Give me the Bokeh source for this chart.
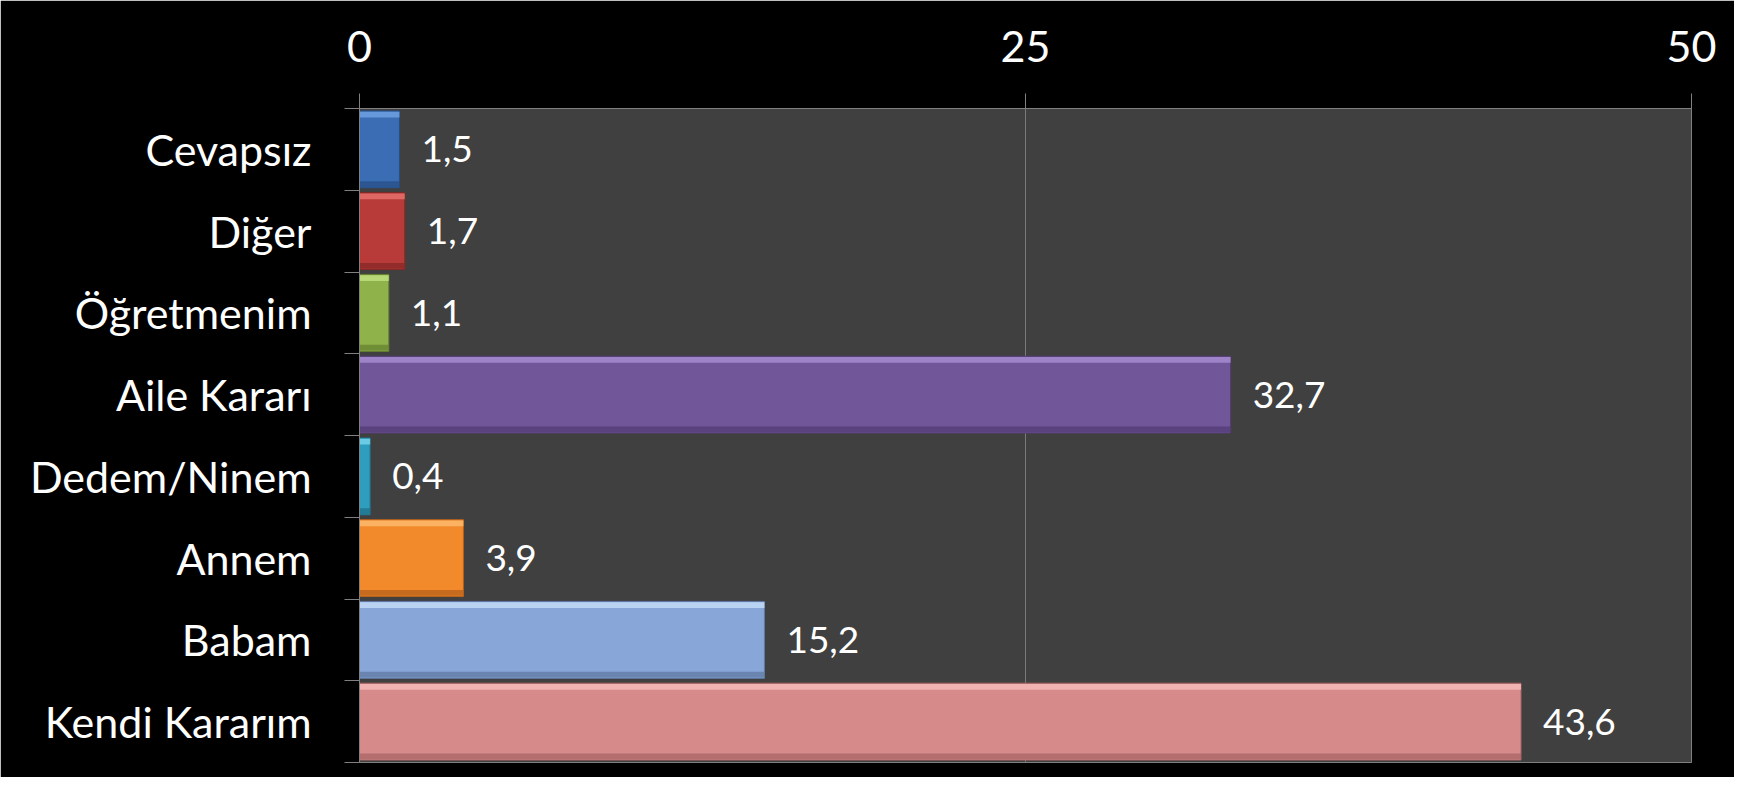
from bokeh.plotting import figure
from bokeh.models import ColumnDataSource, FixedTicker, Range1d
from bokeh.transform import dodge
from bokeh.core.properties import value
from bokeh.embed import file_html
from bokeh.resources import INLINE

# ---- data (top to bottom as shown) ----
categories = ["Cevapsız", "Diğer", "Öğretmenim", "Aile Kararı",
              "Dedem/Ninem", "Annem", "Babam", "Kendi Kararım"]
values = [1.5, 1.7, 1.1, 32.7, 0.4, 3.9, 15.2, 43.6]
x_ticks = [0, 25, 50]

# ---- styles ----
colors = ["#3a6db3", "#b83b39", "#8fb24b", "#72569a",
          "#2f9dbd", "#f28a2c", "#88a7d8", "#d68a8a"]
highlights = ["#72a4e6", "#e87470", "#c2e082", "#a98fd4",
              "#7ad6ee", "#fcbc70", "#c8defa", "#f7bcbc"]
shadows = ["#284f85", "#862826", "#66822f", "#523c73",
           "#1f7189", "#b8621a", "#6079a3", "#a86464"]

n = len(categories)
ys = [n - i - 0.5 for i in range(n)]
labels = [f"{v:.1f}".replace(".", ",") for v in values]

src = ColumnDataSource(dict(cat=categories, values=values, ys=ys, labels=labels,
                            colors=colors, highlights=highlights, shadows=shadows))

FONT = "Lato"

p = figure(width=1734, height=777, x_range=Range1d(0, 50), y_range=Range1d(0, n),
           x_axis_location="above", output_backend="svg", toolbar_location=None,
           background_fill_color="#404040", border_fill_color="black",
           outline_line_color="#808080",
           min_border_left=359, min_border_right=43,
           min_border_top=108, min_border_bottom=15)

# bars with a simple bevel look
p.hbar(y="ys", right="values", left=0, height=0.94, source=src,
       fill_color="colors", line_color="shadows", line_width=1)
p.hbar(y=dodge("ys", 0.425, range=p.y_range), right="values", left=0, height=0.07,
       source=src, fill_color="highlights", line_color=None, fill_alpha=0.8)
p.hbar(y=dodge("ys", -0.425, range=p.y_range), right="values", left=0, height=0.07,
       source=src, fill_color="shadows", line_color=None, fill_alpha=0.75)

# value labels
p.text(x="values", y="ys", text="labels", source=src, x_offset=22,
       text_baseline="middle", text_align="left",
       text_font=value(FONT), text_font_size="37px", text_color="white")

# x axis (top)
xa = p.xaxis[0]
xa.ticker = FixedTicker(ticks=x_ticks, minor_ticks=[])
xa.major_tick_out = 15
xa.major_tick_in = 0
xa.minor_tick_line_color = None
xa.axis_line_color = "#808080"
xa.major_tick_line_color = "#808080"
xa.major_label_text_font = FONT
xa.major_label_text_font_size = "43px"
xa.major_label_text_color = "white"
xa.major_label_standoff = 32

# y axis (left)
ya = p.yaxis[0]
ya.ticker = FixedTicker(ticks=ys, minor_ticks=[float(i) for i in range(n + 1)])
ya.major_label_overrides = {y: c for y, c in zip(ys, categories)}
ya.major_tick_out = 0
ya.major_tick_in = 0
ya.minor_tick_out = 15
ya.minor_tick_in = 0
ya.minor_tick_line_color = "#808080"
ya.axis_line_color = "#808080"
ya.major_label_text_font = FONT
ya.major_label_text_font_size = "43px"
ya.major_label_text_color = "white"
ya.major_label_standoff = 33

p.xgrid.ticker = FixedTicker(ticks=x_ticks, minor_ticks=[])
p.xgrid.grid_line_color = "#7a7a7a"
p.ygrid.grid_line_color = None

open("out.html", "w").write(file_html(p, INLINE))
